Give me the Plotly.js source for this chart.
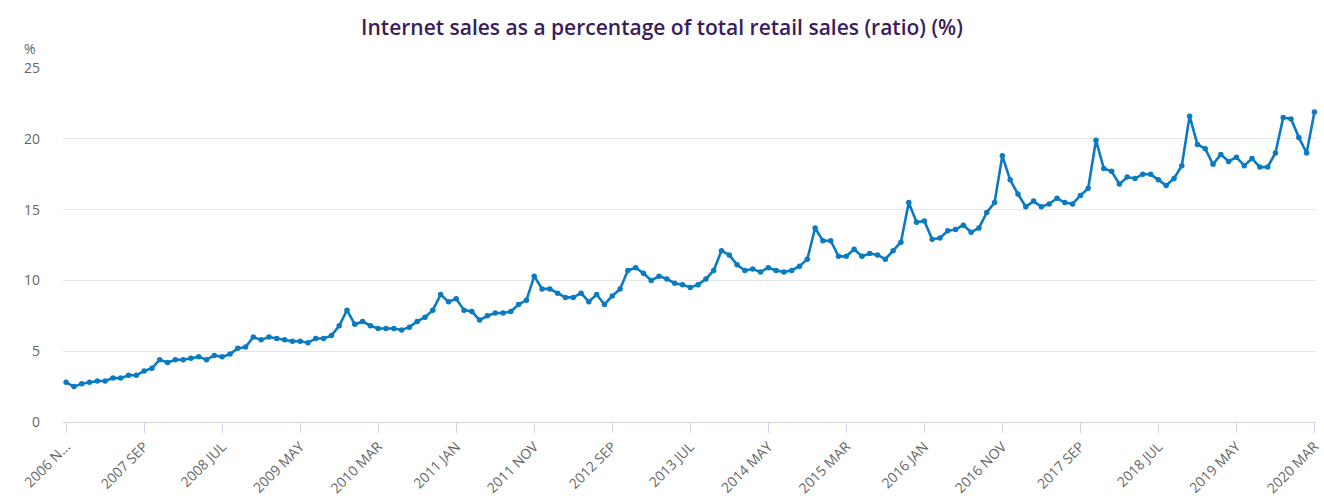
<!DOCTYPE html>
<html>
<head>
<meta charset="utf-8">
<script src="https://cdn.plot.ly/plotly-3.0.1.min.js"></script>
<style>
  html, body { margin: 0; padding: 0; background: #ffffff; }
  #chart { width: 1324px; height: 500px; }
</style>
</head>
<body>
<div id="chart"></div>
<script>
// Monthly series, 2006 Nov .. 2020 Mar
const startYear = 2006;
const startMonth = 10; // 0-based: November
const monthNames = ["JAN","FEB","MAR","APR","MAY","JUN","JUL","AUG","SEP","OCT","NOV","DEC"];

const ratioValues = [
  2.8, 2.5, 2.7, 2.8, 2.9, 2.9, 3.1, 3.1, 3.3, 3.3,
  3.6, 3.8, 4.4, 4.2, 4.4, 4.4, 4.5, 4.6, 4.4, 4.7,
  4.6, 4.8, 5.2, 5.3, 6.0, 5.8, 6.0, 5.9, 5.8, 5.7,
  5.7, 5.6, 5.9, 5.9, 6.1, 6.8, 7.9, 6.9, 7.1, 6.8,
  6.6, 6.6, 6.6, 6.5, 6.7, 7.1, 7.4, 7.9, 9.0, 8.5,
  8.7, 7.9, 7.8, 7.2, 7.5, 7.7, 7.7, 7.8, 8.3, 8.6,
  10.3, 9.4, 9.4, 9.1, 8.8, 8.8, 9.1, 8.5, 9.0, 8.3,
  8.9, 9.4, 10.7, 10.9, 10.5, 10.0, 10.3, 10.1, 9.8, 9.7,
  9.5, 9.7, 10.1, 10.7, 12.1, 11.8, 11.1, 10.7, 10.8, 10.6,
  10.9, 10.7, 10.6, 10.7, 11.0, 11.5, 13.7, 12.8, 12.8, 11.7,
  11.7, 12.2, 11.7, 11.9, 11.8, 11.5, 12.1, 12.7, 15.5, 14.1,
  14.2, 12.9, 13.0, 13.5, 13.6, 13.9, 13.4, 13.7, 14.8, 15.5,
  18.8, 17.1, 16.1, 15.2, 15.6, 15.2, 15.4, 15.8, 15.5, 15.4,
  16.0, 16.5, 19.9, 17.9, 17.7, 16.8, 17.3, 17.2, 17.5, 17.5,
  17.1, 16.7, 17.2, 18.1, 21.6, 19.6, 19.3, 18.2, 18.9, 18.4,
  18.7, 18.1, 18.6, 18.0, 18.0, 19.0, 21.5, 21.4, 20.1, 19.0,
  21.9
];

const monthLabels = ratioValues.map((_, i) => {
  const m = startMonth + i;
  return (startYear + Math.floor(m / 12)) + " " + monthNames[m % 12];
});
const monthIndex = ratioValues.map((_, i) => i);

const tickIndex = [];
const tickLabels = [];
for (let i = 0; i < ratioValues.length; i += 10) {
  tickIndex.push(i);
  tickLabels.push(i === 0 ? "2006 N..." : monthLabels[i]);
}

const yTickVals = [0, 5, 10, 15, 20, 25];

const lineColor = "#0a7bc2";

const trace = {
  type: "scatter",
  mode: "lines+markers",
  x: monthIndex,
  y: ratioValues,
  text: monthLabels,
  hovertemplate: "%{text}: %{y}%<extra></extra>",
  line: { color: lineColor, width: 2.6 },
  marker: { color: lineColor, size: 5.5 },
  cliponaxis: false
};

const layout = {
  width: 1324,
  height: 500,
  paper_bgcolor: "#ffffff",
  plot_bgcolor: "#ffffff",
  margin: { l: 63, r: 8, t: 68, b: 78 },
  showlegend: false,
  title: {
    text: "Internet sales as a percentage of total retail sales (ratio) (%)",
    font: { family: "'Open Sans', sans-serif", size: 21, color: "#3a1d5c", weight: 600 },
    x: 0.5,
    xanchor: "center",
    y: 0.945,
    yanchor: "middle"
  },
  xaxis: {
    range: [-0.4, 160.2],
    tickmode: "array",
    tickvals: tickIndex,
    ticktext: tickLabels,
    tickangle: -45,
    ticklabeloverflow: "allow",
    ticks: "outside",
    ticklen: 10,
    tickcolor: "#ccd6eb",
    tickwidth: 1,
    showline: true,
    linecolor: "#ccd6eb",
    linewidth: 1,
    showgrid: false,
    zeroline: false,
    tickfont: { family: "'Open Sans', sans-serif", size: 14, color: "#666666" }
  },
  yaxis: {
    range: [0, 25],
    tickvals: yTickVals,
    ticks: "",
    showline: false,
    showgrid: true,
    gridcolor: "#e6e6e6",
    gridwidth: 1,
    zeroline: false,
    ticklabelstandoff: 22,
    tickfont: { family: "'Open Sans', sans-serif", size: 14, color: "#666666" }
  },
  annotations: [
    {
      text: "%",
      xref: "paper",
      yref: "paper",
      x: 0,
      y: 1,
      xanchor: "center",
      yanchor: "bottom",
      xshift: -33,
      yshift: 8,
      showarrow: false,
      font: { family: "'Open Sans', sans-serif", size: 14, color: "#666666" }
    }
  ]
};

Plotly.newPlot("chart", [trace], layout, { displayModeBar: false, responsive: false });
</script>
</body>
</html>
